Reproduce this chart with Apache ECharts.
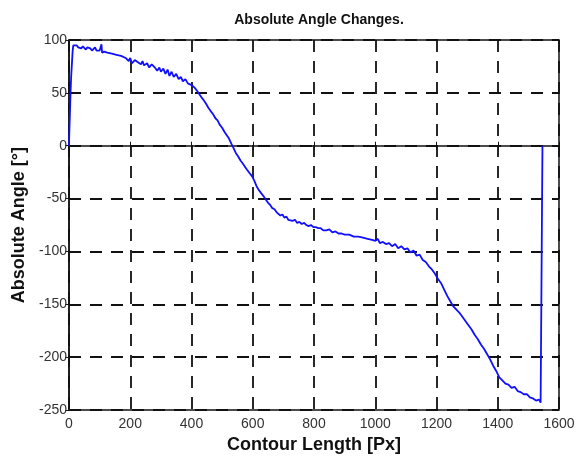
<!DOCTYPE html>
<html>
<head>
<meta charset="utf-8">
<script src="https://cdn.jsdelivr.net/npm/echarts@6/dist/echarts.min.js"></script>
<style>
html,body{margin:0;padding:0;background:#fff;}
#chart{width:582px;height:459px;}
</style>
</head>
<body>
<div id="chart"></div>
<script>
const titleText = 'Absolute Angle Changes.';
const xAxisName = 'Contour Length [Px]';
const yAxisName = 'Absolute Angle [°]';
const xTicks = [0, 200, 400, 600, 800, 1000, 1200, 1400, 1600];
const yTicks = [-250, -200, -150, -100, -50, 0, 50, 100];

const contourLength = [
0,1,3,5,7,10,12,14,20,25,30,35,40,45,50,55,60,65,70,75,80,85,90,95,100,104,106,108,115,125,
140,155,170,185,195,200,205,215,225,235,240,245,255,262,270,280,288,295,300,308,315,322,328,335,342,350,358,365,372,380,
388,395,402,410,418,425,432,440,447,455,462,470,478,485,492,500,508,515,522,530,537,545,552,560,568,575,582,590,598,605,
612,620,628,636,643,650,657,664,671,678,684,690,697,703,710,716,722,730,738,745,752,760,768,775,782,790,798,806,814,822,
830,840,850,860,870,880,890,900,915,930,945,960,975,990,1000,1008,1015,1025,1035,1045,1055,1065,1075,1085,1095,1105,1115,1125,1135,1145,
1155,1165,1175,1185,1195,1205,1215,1225,1235,1245,1255,1265,1275,1285,1295,1305,1315,1325,1335,1345,1355,1365,1375,1385,1395,1405,1415,1425,1435,1445,
1455,1465,1475,1485,1495,1505,1515,1525,1535,1540,1545,1546
];
const absoluteAngle = [
0,12,30,50,65,80,90,95,94,95,93,94,92,94,93,91,93,92,92,90,91,93,90,91,90,91,96,88,89,88,
87,86,85,83,80,83,78,81,79,77,80,76,78,74,77,74,71,74,70,73,68,72,66,70,65,68,63,65,61,63,
59,58,57,55,52,49,46,43,40,36,33,30,26,24,20,17,13,10,7,2,-2,-7,-10,-14,-17,-20,-23,-26,-29,-33,
-38,-42,-45,-48,-51,-54,-56,-59,-60,-63,-62,-66,-65,-68,-67,-70,-69,-71,-70,-73,-72,-74,-73,-75,-76,-75,-77,-77,-78,-78,
-80,-80,-79,-82,-81,-83,-83,-84,-84,-86,-86,-87,-88,-89,-90,-88,-92,-91,-93,-92,-95,-93,-97,-95,-98,-97,-101,-99,-104,-103,
-108,-110,-114,-117,-121,-126,-130,-136,-142,-147,-152,-155,-158,-162,-166,-170,-174,-179,-183,-188,-192,-197,-202,-208,-213,-219,-222,-225,-226,-229,
-228,-232,-233,-235,-235,-238,-239,-241,-240,-243,-242,0
];

const seriesData = contourLength.map((x, i) => [x, absoluteAngle[i]]);

const font = '"Liberation Sans", Arial, Helvetica, sans-serif';
const chart = echarts.init(document.getElementById('chart'), null, {renderer: 'canvas'});

const xMin = xTicks[0], xMax = xTicks[xTicks.length - 1];
const yMin = yTicks[0], yMax = yTicks[yTicks.length - 1];
const plain = v => String(v);

chart.setOption({
  animation: false,
  backgroundColor: '#fff',
  title: {
    text: titleText,
    left: 314,
    textAlign: 'center',
    top: 8,
    textStyle: {fontFamily: font, fontWeight: 'bold', fontSize: 14, color: '#111'}
  },
  grid: {
    left: 69, right: 23, top: 40, bottom: 41,
    show: true, borderColor: '#111', borderWidth: 1.5, backgroundColor: 'transparent'
  },
  xAxis: [{
    type: 'value', min: xMin, max: xMax, interval: 200,
    name: xAxisName, nameLocation: 'middle', nameGap: 20,
    nameTextStyle: {fontFamily: font, fontWeight: 'bold', fontSize: 18, color: '#111'},
    axisLine: {show: true, lineStyle: {color: '#111', width: 1.5}},
    axisTick: {show: true, inside: true, length: 4, lineStyle: {color: '#111', width: 1}},
    axisLabel: {fontFamily: font, fontSize: 14, color: '#333', margin: 7, formatter: plain},
    splitLine: {show: true, lineStyle: {color: '#111', width: 1.8, type: [12, 9]}}
  }, {
    type: 'value', min: xMin, max: xMax, interval: 200, position: 'top',
    axisLine: {show: false}, axisLabel: {show: false}, splitLine: {show: false},
    axisTick: {show: true, inside: true, length: 4, lineStyle: {color: '#111', width: 1}}
  }],
  yAxis: [{
    type: 'value', min: yMin, max: yMax, interval: 50,
    name: yAxisName, nameLocation: 'middle', nameGap: 38, nameRotate: 90,
    nameTextStyle: {fontFamily: font, fontWeight: 'bold', fontSize: 18, color: '#111'},
    axisLine: {show: true, lineStyle: {color: '#111', width: 1.5}},
    axisTick: {show: true, inside: true, length: 4, lineStyle: {color: '#111', width: 1}},
    axisLabel: {fontFamily: font, fontSize: 14, color: '#333', margin: 2, formatter: plain},
    splitLine: {show: true, lineStyle: {color: '#111', width: 1.8, type: [12, 9]}}
  }, {
    type: 'value', min: yMin, max: yMax, interval: 50, position: 'right',
    axisLine: {show: false}, axisLabel: {show: false}, splitLine: {show: false},
    axisTick: {show: true, inside: true, length: 4, lineStyle: {color: '#111', width: 1}}
  }],
  series: [{
    type: 'line',
    data: seriesData,
    showSymbol: false,
    symbol: 'none',
    lineStyle: {color: '#1010ff', width: 1.8},
    z: 5
  }]
});
</script>
</body>
</html>
